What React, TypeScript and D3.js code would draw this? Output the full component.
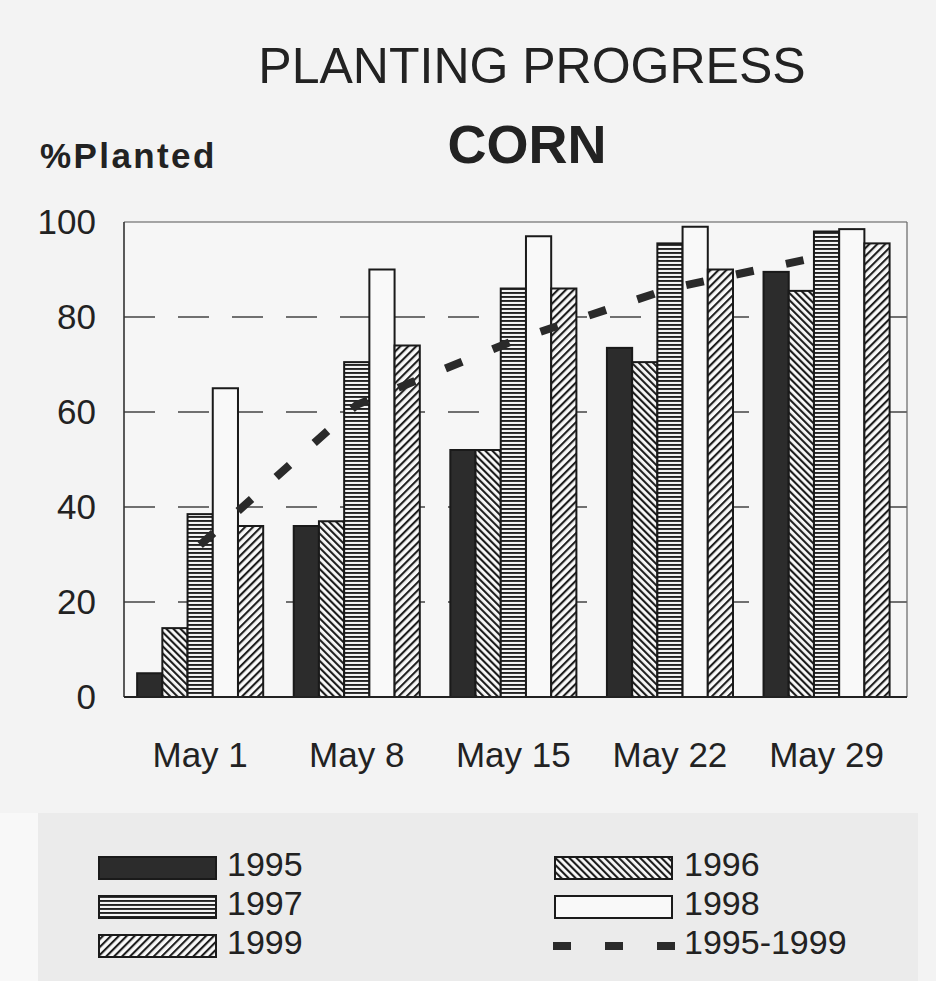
import React from 'react';
import * as d3 from 'd3';

const categories = ['May 1', 'May 8', 'May 15', 'May 22', 'May 29'];
const seriesNames = ['1995', '1996', '1997', '1998', '1999'];
const v1995 = [5, 36, 52, 73.5, 89.5];
const v1996 = [14.5, 37, 52, 70.5, 85.5];
const v1997 = [38.5, 70.5, 86, 95.5, 98];
const v1998 = [65, 90, 97, 99, 98.5];
const v1999 = [36, 74, 86, 90, 95.5];
const avgName = '1995-1999';
const avg = [32, 61.5, 75, 86, 93];
const yTicks = [0, 20, 40, 60, 80, 100];

const seriesValues = [v1995, v1996, v1997, v1998, v1999];
const fills = ['#2c2c2c', 'url(#p96)', 'url(#p97)', '#f9f9f9', 'url(#p99)'];

const W = 936, H = 981;
const L = 124, R = 907, T = 222, B = 697;
const FONT = "'Liberation Sans', Arial, Helvetica, sans-serif";
const INK = '#222';

export default function App() {
  const x0 = d3.scaleBand<string>().domain(categories).range([L, R])
    .paddingInner(0.195).paddingOuter(0.0975).align(0.43);
  const x1 = d3.scaleBand<string>().domain(seriesNames).range([0, x0.bandwidth()]);
  const y = d3.scaleLinear().domain([0, 100]).range([B, T]);
  const line = d3.line<number>()
    .x((_, i) => (x0(categories[i]) as number) + x0.bandwidth() / 2)
    .y((d) => y(d));

  const legendItems = [
    { name: seriesNames[0], fill: fills[0], x: 99, y: 857, tx: 227, ty: 875 },
    { name: seriesNames[2], fill: fills[2], x: 99, y: 896, tx: 227, ty: 914 },
    { name: seriesNames[4], fill: fills[4], x: 99, y: 935, tx: 227, ty: 953 },
    { name: seriesNames[1], fill: fills[1], x: 555, y: 857, tx: 684, ty: 875 },
    { name: seriesNames[3], fill: fills[3], x: 555, y: 896, tx: 684, ty: 914 },
  ];

  return (
    <svg width={W} height={H} viewBox={`0 0 ${W} ${H}`}
      style={{ position: 'absolute', left: 0, top: 0 }} fontFamily={FONT}>
      <defs>
        <pattern id="p96" patternUnits="userSpaceOnUse" width={5} height={5} patternTransform="rotate(-45)">
          <rect width={5} height={5} fill="#f9f9f9" />
          <rect width={2.1} height={5} fill="#1e1e1e" />
        </pattern>
        <pattern id="p99" patternUnits="userSpaceOnUse" width={5.6} height={5.6} patternTransform="rotate(45)">
          <rect width={5.6} height={5.6} fill="#f9f9f9" />
          <rect width={2.1} height={5.6} fill="#1e1e1e" />
        </pattern>
        <pattern id="p97" patternUnits="userSpaceOnUse" width={4} height={4}>
          <rect width={4} height={4} fill="#f4f4f4" />
          <rect width={4} height={1.9} fill="#222" />
        </pattern>
      </defs>

      <rect x={0} y={0} width={W} height={H} fill="#f3f3f3" />
      <rect x={0} y={813} width={38} height={H - 813} fill="#f8f8f8" />
      <rect x={38} y={813} width={880} height={H - 813} fill="#ebebeb" />
      <rect x={L} y={T} width={R - L} height={B - T} fill="#f6f6f6" />

      {/* gridlines */}
      {yTicks.filter((t) => t > 0 && t < 100).map((t) => (
        <line key={t} x1={L} x2={R} y1={y(t)} y2={y(t)} stroke="#444" strokeWidth={1.4}
          strokeDasharray="31 23" />
      ))}
      {/* frame */}
      <line x1={L} x2={R} y1={T} y2={T} stroke="#555" strokeWidth={1.2} />
      <line x1={R} x2={R} y1={T} y2={B} stroke="#666" strokeWidth={1.2} />

      {/* bars */}
      {categories.map((c, ci) => (
        <g key={c} transform={`translate(${x0(c)},0)`}>
          {seriesNames.map((s, si) => {
            const v = seriesValues[si][ci];
            return (
              <rect key={s} x={x1(s)} y={y(v)} width={x1.bandwidth()} height={B - y(v)}
                fill={fills[si]} stroke="#1a1a1a" strokeWidth={2} />
            );
          })}
        </g>
      ))}

      {/* average line */}
      <path d={line(avg) || ''} fill="none" stroke="#2a2a2a" strokeWidth={8}
        strokeDasharray="18 33" />

      {/* axes */}
      <line x1={L} x2={L} y1={T} y2={B} stroke="#333" strokeWidth={1.6} />
      <line x1={L} x2={R} y1={B} y2={B} stroke="#222" strokeWidth={2.2} />

      {/* y tick labels */}
      {yTicks.map((t) => (
        <text key={t} x={96} y={y(t) + 12} textAnchor="end" fontSize={35} fill={INK}>{t}</text>
      ))}
      {/* x labels */}
      {categories.map((c) => (
        <text key={c} x={(x0(c) as number) + x0.bandwidth() / 2} y={767} textAnchor="middle"
          fontSize={35} fill={INK}>{c}</text>
      ))}

      {/* titles */}
      <text x={532} y={83} textAnchor="middle" fontSize={50} fill={INK}>PLANTING PROGRESS</text>
      <text x={527} y={163} textAnchor="middle" fontSize={54} fontWeight="bold" fill={INK}>CORN</text>
      <text x={40} y={168} fontSize={35} fontWeight="bold" letterSpacing={2.4} fill={INK}>%Planted</text>

      {/* legend */}
      {legendItems.map((it) => (
        <g key={it.name}>
          <rect x={it.x} y={it.y} width={117} height={22} fill={it.fill} stroke="#1a1a1a" strokeWidth={2} />
          <text x={it.tx} y={it.ty + 1} fontSize={34} fill={INK}>{it.name}</text>
        </g>
      ))}
      <line x1={553} x2={675} y1={946} y2={946} stroke="#2a2a2a" strokeWidth={8} strokeDasharray="18 34" />
      <text x={684} y={954} fontSize={34} fill={INK}>{avgName}</text>
    </svg>
  );
}
